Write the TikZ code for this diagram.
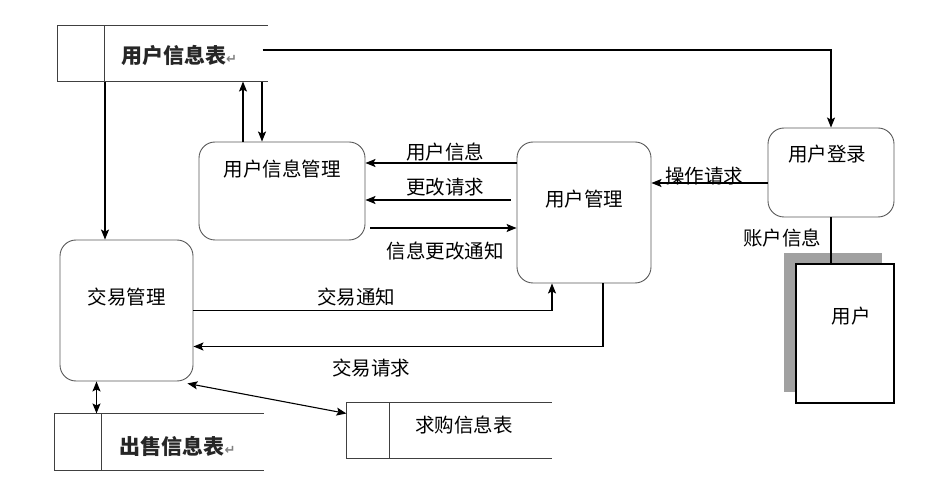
\documentclass[tikz,border=0pt]{standalone}
\usepackage{fontspec}
\newfontfamily\cjk{Noto Sans CJK SC}
\newfontfamily\dejavu{DejaVu Sans}
\usetikzlibrary{positioning,arrows.meta,shadows}

\begin{document}
\begin{tikzpicture}[x=1pt, y=-1pt, line width=1.1pt,
    >={Stealth[length=10pt,width=8pt,inset=2pt]},
    every node/.style={font=\cjk\fontsize{19.5}{22}\selectfont},
    proc/.style={draw=black!65, line width=0.9pt, rounded corners=16pt, inner sep=0pt},
    store/.style={inner sep=0pt},
    storetxt/.style={font=\cjk\bfseries\fontsize{21}{24}\selectfont, text=black!85},
    extent/.style={draw, line width=1.2pt, fill=white, inner sep=0pt,
        drop shadow={shadow xshift=-12pt, shadow yshift=11pt, fill=black!37, opacity=1}}]
    \useasboundingbox (0,0) rectangle (941,502);

    % Data stores
    \node[store, minimum width=209pt, minimum height=55pt] (usrtab) at (162.5,53.5) {};
    \draw[black!75, line width=1.3pt] (usrtab.north east) -- (usrtab.north west) -- (usrtab.south west) -- (usrtab.south east);
    \draw[black!75, line width=1.3pt] ([xshift=47pt]usrtab.north west) -- ([xshift=47pt]usrtab.south west);
    \node[storetxt] (usrtabtxt) at (179,56) {用户信息表{\dejavu\color{gray}\fontsize{13}{13}\selectfont ↵}};

    \node[store, minimum width=208pt, minimum height=56pt] (selltab) at (159,442) {};
    \draw[black!75, line width=1.3pt] (selltab.north east) -- (selltab.north west) -- (selltab.south west) -- (selltab.south east);
    \draw[black!75, line width=1.3pt] ([xshift=47pt]selltab.north west) -- ([xshift=47pt]selltab.south west);
    \node[storetxt] (selltabtxt) at (177.5,446) {出售信息表{\dejavu\color{gray}\fontsize{13}{13}\selectfont ↵}};

    \node[store, minimum width=204pt, minimum height=55pt] (buytab) at (449,430.5) {};
    \draw[black!75, line width=1.3pt] (buytab.north east) -- (buytab.north west) -- (buytab.south west) -- (buytab.south east);
    \draw[black!75, line width=1.3pt] ([xshift=43pt]buytab.north west) -- ([xshift=43pt]buytab.south west);
    \node (buytabtxt) at (464,425) {求购信息表};

    % Processes
    \node[proc, minimum width=166pt, minimum height=98pt,
        label={[anchor=center, yshift=-28pt]north:用户信息管理}] (uim) at (282,191) {};
    \node[proc, minimum width=134pt, minimum height=141pt,
        label={[anchor=center, yshift=-58pt]north:用户管理}] (umgr) at (584,212.5) {};
    \node[proc, minimum width=126pt, minimum height=89pt,
        label={[anchor=center, xshift=-4pt, yshift=-27pt]north:用户登录}] (login) at (831,172.5) {};
    \node[proc, minimum width=133pt, minimum height=141pt,
        label={[anchor=center, yshift=-58pt]north:交易管理}] (trade) at (126.5,310.5) {};

    % External entity
    \node[extent, minimum width=98pt, minimum height=139pt,
        label={[anchor=center, xshift=6pt, yshift=-53pt]north:用户}] (user) at (845,333.5) {};

    % Connections
    \draw[->] ([xshift=-5pt, yshift=3.5pt]usrtab.east) -| (login.north);
    \draw[->] ([xshift=-39pt]uim.north) -- ([xshift=-39pt]uim.north |- usrtab.south);
    \draw[->] ([xshift=-20pt]uim.north |- usrtab.south) -- ([xshift=-20pt]uim.north);
    \draw[->] ([xshift=-21.5pt]trade.north |- usrtab.south) -- ([xshift=-21.5pt]trade.north);
    \draw[->] ([yshift=49.5pt]umgr.west) -- ([yshift=49.5pt]umgr.west -| uim.east);
    \draw[->] ([xshift=-6pt, yshift=12.5pt]umgr.west) -- ([yshift=12.5pt]umgr.west -| uim.east);
    \draw[->] ([xshift=5pt, yshift=-15.5pt]umgr.west -| uim.east) -- ([yshift=-15.5pt]umgr.west);
    \draw[->] ([yshift=-10.5pt]login.west) -- ([yshift=-10.5pt]login.west -| umgr.east);
    \draw (login.south) -- (login.south |- user.north);
    \draw[->] (trade.east) -| ([xshift=-32pt]umgr.south);
    \draw[->] ([xshift=19pt]umgr.south) |- ([yshift=-36pt]trade.east);
    \draw[<->] ([xshift=-30pt]trade.south) -- ([xshift=-30pt]trade.south |- selltab.north);
    \draw[<->] ([xshift=-6pt, yshift=-2pt]trade.south east) -- ([yshift=17pt]buytab.west);

    % Labels
    \node (usrinfo) at (445,152) {用户信息};
    \node (chgreq) at (445,187) {更改请求};
    \node (chgnote) at (445,251) {信息更改通知};
    \node (opreq) at (704,176) {操作请求};
    \node (acctinfo) at (782,238) {账户信息};
    \node (tradenote) at (356,297) {交易通知};
    \node (tradereq) at (371,368) {交易请求};
\end{tikzpicture}
\end{document}
